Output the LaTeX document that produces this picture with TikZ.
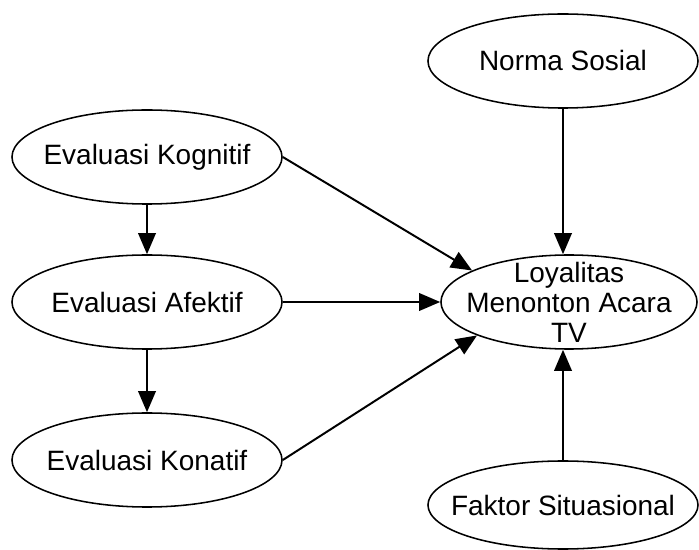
\documentclass[tikz,border=0pt]{standalone}
\usepackage{fontspec}
\setmainfont{Liberation Sans}
\usepackage{tikz}
\usetikzlibrary{shapes.geometric,arrows.meta}
\tikzstyle{construct}=[draw, ellipse, line width=1.1pt, inner sep=0pt, minimum width=6.75cm, minimum height=2.35cm]
\tikzstyle{constructtext}=[font=\fontsize{19.9}{21.3}\selectfont, align=center, inner sep=0pt]
\tikzstyle{influence}=[line width=1.4pt, -{Triangle[length=15pt,width=12.5pt]}]

\begin{document}
\begin{tikzpicture}[x=0.025cm,y=-0.025cm]
		\useasboundingbox (0,0) rectangle (699,550);
		\node[construct, label={[constructtext]center:Norma Sosial}] (norma) at (563,61) {};
		\node[construct, label={[constructtext]center:Evaluasi Kognitif}] (kognitif) at (147,157) {};
		\node[construct, label={[constructtext]center:Evaluasi Afektif}] (afektif) at (147,302) {};
		\node[construct, label={[constructtext]center:Evaluasi Konatif}] (konatif) at (147,460) {};
		\node[construct, minimum width=6.4cm, label={[constructtext]center:Loyalitas\\Menonton Acara\\TV}] (loyalitas) at (569,302) {};
		\node[construct, minimum height=2.2cm, label={[constructtext]center:Faktor Situasional}] (faktor) at (563,505) {};
		\draw[influence] (kognitif.south) -- (afektif.north);
		\draw[influence] (afektif.south) -- (konatif.north);
		\draw[influence] (kognitif.east) -- (loyalitas.162);
		\draw[influence] (afektif.east) -- (loyalitas.west);
		\draw[influence] (konatif.east) -- (loyalitas.200);
		\draw[influence] (norma.south) -- (norma.south |- loyalitas.north);
		\draw[influence] (faktor.north) -- (faktor.north |- loyalitas.south);
	\end{tikzpicture}
\end{document}
